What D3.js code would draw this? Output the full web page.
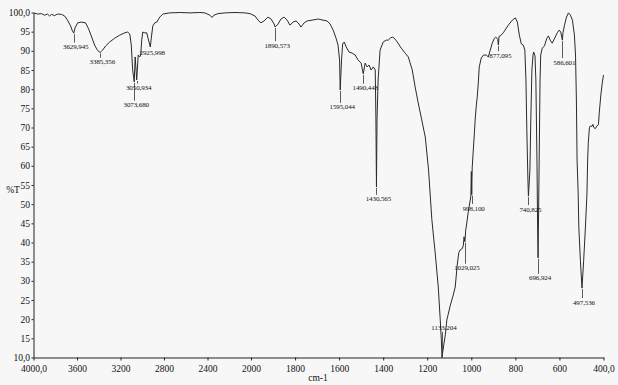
<!DOCTYPE html>
<html>
<head>
<meta charset="utf-8">
<script src="https://cdn.jsdelivr.net/npm/d3@7"></script>
<style>
  html, body { margin: 0; padding: 0; background: #f7f7f7; }
  svg { display: block; }
  text { font-family: "Liberation Serif", "Times New Roman", serif; fill: #111; }
</style>
</head>
<body>
<script>
// ---------------- DATA ----------------
const wavenumber = [4000,3963,3926,3899,3871,3853,3834,3806,3779,3742,3714,3687,3659,3645,3629.945,3618,3594,3558,3521,3493,3465,3438,3419,3400,3385.356,3364,3336,3300,3253,3207,3161,3134,3115,3101,3088,3073.68,3065,3050.934,3037,3023,3014,3005,2995,2977,2959,2945,2925.998,2917,2903,2885,2866,2839,2811,2747,2654,2562,2470,2424,2378,2359,2341,2304,2240,2147,2055,2009,1982,1968,1955,1941,1923,1909,1895,1890.573,1877,1864,1850,1836,1823,1809,1795,1782,1773,1759,1745,1723,1695,1673,1655,1641,1627,1614,1605,1598,1595.044,1589,1584,1577,1568,1555,1541,1527,1514,1500,1490.443,1482,1473,1464,1455,1445,1436,1433,1430.565,1428,1423,1414,1400,1386,1377,1368,1359,1350,1336,1318,1300,1286,1268,1255,1241,1225,1209,1194,1186,1179,1170,1164,1150,1141,1136,1133.204,1125,1118,1111,1095,1082,1073,1064,1057,1050,1041,1036,1033,1029.025,1025,1023,1014,1007,1002,1000,998.1,996,991,986,982,977,973,968,964,955,945,932,923,914,905,895,889,880,877.095,874,868,855,832,814,800,791,782,773,764,757,752,748,743,740.825,734,730,725,720,717,711,707,702,699,696.924,694,691,688,685,678,668,657,650,642,633,619,610,601,594,586.601,584,577,568,559,550,541,532,527,523,520,515,512,505,497.536,490,482,475,472,469,464,460,452,448,444,437,430,423,419,412,405,400];
const transmittance = [99.9,99.6,99.7,99.3,99.6,99.1,99.5,99.2,99.6,99.5,99.1,98.0,96.5,95.4,94.6,96.0,97.3,97.5,97.3,95.7,93.6,91.5,90.5,89.8,89.6,90.2,91.3,92.3,93.3,94.1,94.7,94.9,94.4,91.5,85.0,81.9,88.4,82.4,88.9,88.4,88.9,92.8,94.9,94.7,94.7,93.1,91.0,93.3,96.5,97.3,97.5,98.8,99.6,99.9,100,99.9,100,99.9,99.3,98.7,99.3,99.7,99.9,100,99.9,99.7,99.1,98.0,97.3,97.8,98.8,98.3,97.0,96.2,97.0,98.3,98.8,98.0,96.7,97.5,97.8,97.0,96.2,97.3,97.8,98.0,98.3,98.0,97.8,97.0,95.4,93.3,91.5,87.6,79.8,87.6,91.8,92.3,91.0,89.7,89.4,88.9,87.6,86.8,84.0,86.8,85.8,86.3,85.0,85.8,85.0,72.0,54.5,72.0,82.4,90.2,92.3,92.8,92.8,93.3,93.6,93.3,92.3,90.7,89.4,88.4,85.0,80.6,76.4,72.0,67.5,58.9,51.9,45.9,40.7,37.3,28.4,19.8,14.6,10.0,13.3,15.9,19.8,23.7,26.3,28.4,34.1,37.3,38.1,38.4,39.3,41.5,40.2,43.5,44.0,47.9,50.3,52.1,58.5,52.5,59.5,64.1,68.6,72.5,75.9,78.0,81.9,85.8,88.1,88.9,88.9,88.4,90.2,92.0,93.3,93.6,93.0,91.5,93.8,93.9,94.7,96.7,98.0,98.6,97.5,94.1,91.8,91.5,90.2,82.4,69.3,56.3,52.1,58.9,72.0,85.0,88.9,89.7,88.7,82.4,61.5,43.3,36.0,51.1,66.7,82.4,88.9,90.7,91.3,93.3,93.9,92.8,92.0,93.6,94.7,95.4,94.9,92.8,94.7,96.7,98.8,99.9,99.3,98.0,94.1,88.9,77.2,61.5,52.9,44.0,35.4,28.1,35.4,44.0,52.9,61.5,66.0,69.9,70.4,70.3,70.8,70.0,69.7,70.4,70.7,74.0,78.5,81.9,83.7];

const peakWavenumbers = [3629.945,3385.356,3073.68,3050.934,2925.998,1890.573,1595.044,1490.443,1430.565,1133.204,1029.025,998.1,877.095,740.825,696.924,586.601,497.536];
const peakLabels = ["3629,945","3385,356","3073,680","3050,934","2925,998","1890,573","1595,044","1490,443","1430,565","1133,204","1029,025","998,100","877,095","740,825","696,924","586,601","497,536"];

const xTickValues = [4000,3600,3200,2800,2400,2000,1800,1600,1400,1200,1000,800,600,400];
const xTickLabels = ["4000,0","3600","3200","2800","2400","2000","1800","1600","1400","1200","1000","800","600","400,0"];
const yTickValues = [100,95,90,85,80,75,70,65,60,55,50,45,40,35,30,25,20,15,10];
const yTickLabels = ["100,0","95","90","85","80","75","70","65","60","55","50","45","40","35","30","25","20","15","10,0"];

const xTitle = "cm-1";
const yTitle = "%T";

// label offsets below each peak (layout, px)
const labelOffsets = [13.5,9.3,22.7,7.6,6,18,17,14,12,-29.5,26,13.5,10,13,20,22,14];

// ---------------- CHART ----------------
const W = 618, H = 385;
const svg = d3.select("body").append("svg").attr("width", W).attr("height", H);

// scale with expanded range below 2000 cm-1 (as in the instrument output)
const x = d3.scaleLinear().domain([4000, 2000, 400]).range([33.5, 251, 603.5]);
const y = d3.scaleLinear().domain([10, 100]).range([357.5, 12.5]);

// axes
const xAxis = d3.axisBottom(x).tickValues(xTickValues).tickSize(3).tickSizeOuter(0)
  .tickFormat((d, i) => xTickLabels[i]);
const yAxis = d3.axisLeft(y).tickValues(yTickValues).tickSize(2).tickSizeOuter(0)
  .tickFormat((d, i) => yTickLabels[i]);

const gx = svg.append("g").attr("transform", "translate(0,357.5)").call(xAxis);
gx.selectAll("text").attr("font-size", 9.5).attr("dy", "0.9em").attr("fill", "#111")
  .style("font-family", '"Liberation Serif", serif');
gx.selectAll("line").attr("stroke", "#222");
gx.select(".domain").attr("stroke", "#222");

const gy = svg.append("g").attr("transform", "translate(33.5,0)").call(yAxis);
gy.selectAll("text").attr("font-size", 9.5).attr("fill", "#111").attr("x", -3.5)
  .style("font-family", '"Liberation Serif", serif');
gy.selectAll("line").attr("stroke", "#222");
gy.select(".domain").attr("stroke", "#222");

// axis titles
svg.append("text").attr("x", 13).attr("y", 190).attr("dy", "0.35em")
  .attr("text-anchor", "middle").attr("font-size", 9.5).text(yTitle);
svg.append("text").attr("x", 318).attr("y", 378).attr("dy", "0.35em")
  .attr("text-anchor", "middle").attr("font-size", 9.5).text(xTitle);

// spectrum
const pts = wavenumber.map((w, i) => [w, transmittance[i]]);
const line = d3.line().x(d => x(d[0])).y(d => y(d[1]));
svg.append("path").datum(pts).attr("d", line)
  .attr("fill", "none").attr("stroke", "#2a2a2a").attr("stroke-width", 1)
  .attr("stroke-linejoin", "round");

// peak annotations
const peaks = peakWavenumbers.map((w, i) => {
  const idx = wavenumber.indexOf(w);
  return { w, t: transmittance[idx], label: peakLabels[i], off: labelOffsets[i] };
});
const gp = svg.append("g");
peaks.forEach(p => {
  const px = x(p.w), py = y(p.t);
  const ly = py + p.off;
  if (p.off > 7) {
    gp.append("line").attr("x1", Math.round(px) + 0.5).attr("x2", Math.round(px) + 0.5)
      .attr("y1", py + 1).attr("y2", ly - 4).attr("stroke", "#333").attr("stroke-width", 0.8);
  } else if (p.off < 0) {
    gp.append("line").attr("x1", Math.round(px) + 0.5).attr("x2", Math.round(px) + 0.5)
      .attr("y1", ly + 4).attr("y2", py - 1).attr("stroke", "#333").attr("stroke-width", 0.8);
  }
  gp.append("text").attr("x", px + 2).attr("y", ly).attr("dy", "0.35em")
    .attr("text-anchor", "middle").attr("font-size", 7).attr("fill", "#111")
    .style("letter-spacing", "-0.1px").text(p.label);
});
</script>
</body>
</html>
